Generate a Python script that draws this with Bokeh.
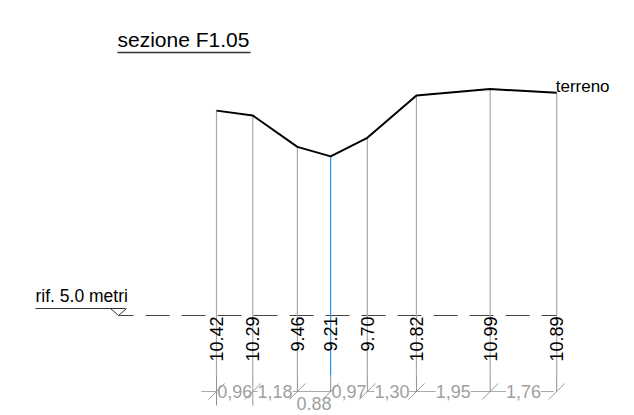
from bokeh.plotting import figure
from bokeh.models import Range1d, ColumnDataSource
from bokeh.core.properties import value
from bokeh.embed import file_html
from bokeh.resources import INLINE

distances = [0.96, 1.18, 0.88, 0.97, 1.30, 1.95, 1.76]
distance_labels = ["0,96", "1,18", "0.88", "0,97", "1,30", "1,95", "1,76"]
heights = [10.42, 10.29, 9.46, 9.21, 9.70, 10.82, 10.99, 10.89]
height_labels = ["10.42", "10.29", "9.46", "9.21", "9.70", "10.82", "10.99", "10.89"]
title_text = "sezione F1.05"
ref_text = "rif. 5.0 metri"
ground_text = "terreno"
ref_level = 5.0

FONT = value("Liberation Sans")
W, H = 634, 415
S = 37.8           # px per metre
X0, Y0 = 216, 315  # plot px of first station, reference line

xs = [0.0]
for d in distances:
    xs.append(round(xs[-1] + d, 2))

p = figure(width=W, height=H, output_backend="svg", toolbar_location=None,
           x_range=Range1d(-X0 / S, (W - X0) / S),
           y_range=Range1d(ref_level - (H - Y0) / S, ref_level + Y0 / S),
           min_border=0, outline_line_color=None, background_fill_color="white")
p.axis.visible = False
p.grid.visible = False

def dx(px): return px / S
def dy(px): return px / S

# dimension line
dim_y = ref_level - dy(76)
p.line([xs[0] - dx(15), xs[-1] - dx(3)], [dim_y, dim_y], line_color="#aaaaaa", line_width=1)
# dashed reference line
p.line([dx(-98), xs[-1]], [ref_level, ref_level], line_color="#444444",
       line_width=1, line_dash="24 12", line_dash_offset=9)
# stations
for i, (x, h) in enumerate(zip(xs, heights)):
    p.line([x, x], [h, ref_level - dy(60)],
           line_color="#2196f3" if i == 3 else "#a8a8a8", line_width=1.2)
    p.line([x, x], [ref_level - dy(60), ref_level - dy(90 if i < 2 else 76)],
           line_color="#909090", line_width=1)
# terrain
p.line(xs, heights, line_color="black", line_width=2)
# dimension labels
mids = [(a + b) / 2 for a, b in zip(xs[:-1], xs[1:])]
ys = [dim_y] * 7
ys[2] = dim_y - dy(12)
src = ColumnDataSource(dict(x=mids, y=ys, t=distance_labels))
p.text("x", "y", "t", source=src, text_font=FONT, text_font_size="18px", text_color="#a0a0a0",
       text_align="center", text_baseline="middle", background_fill_color="white")
# dimension slashes
p.segment([x - dx(8) for x in xs], [dim_y - dy(8)] * 8, [x + dx(8) for x in xs], [dim_y + dy(8)] * 8,
          line_color="#999999", line_width=1)
# height labels
p.text(xs, [ref_level - dy(1)] * 8, height_labels, angle=1.5708, text_font=FONT, text_font_size="18px",
       text_color="black", text_align="right", text_baseline="middle")
# reference marker
p.line([dx(-181), dx(-91)], [ref_level + dy(7)] * 2, line_color="#333333", line_width=1)
p.line([dx(-106), dx(-98), dx(-90)], [ref_level + dy(7), ref_level, ref_level + dy(7)],
       line_color="#333333", line_width=1)
p.text([dx(-181)], [ref_level + dy(10)], [ref_text], text_font=FONT, text_font_size="17.5px", text_color="black",
       text_baseline="bottom")
# ground label
p.text([xs[-1] - dx(1)], [heights[-1] - dy(3)], [ground_text], text_font=FONT, text_font_size="17px",
       text_color="black", text_baseline="bottom")
# title
ty = ref_level + dy(263)
p.line([dx(-99), dx(34)], [ty, ty], line_color="#333333", line_width=1.5)
p.text([dx(-99)], [ty + dy(2)], [title_text], text_font=FONT, text_font_size="21px", text_color="black",
       text_baseline="bottom")

open("out.html", "w").write(file_html(p, INLINE))
